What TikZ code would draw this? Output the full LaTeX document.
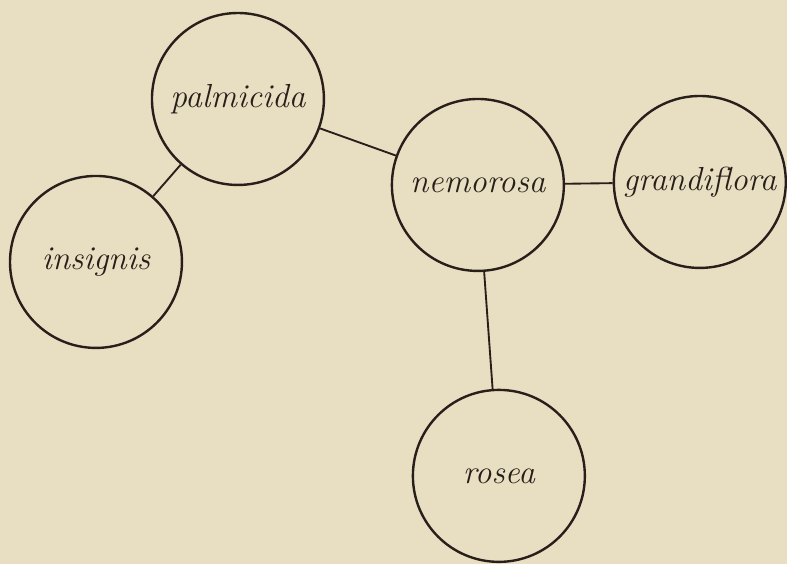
\documentclass[tikz,border=0pt]{standalone}
\usepackage{tikz}

\definecolor{paper}{RGB}{232,223,194}
\definecolor{ink}{RGB}{40,30,26}

\begin{document}
\begin{tikzpicture}[x=0.75pt,y=0.75pt,yscale=-1,xscale=1,
  species/.style={draw=ink,circle,line width=1.8pt,minimum size=129pt,inner sep=0pt,
    text=ink,font=\fontsize{25}{30}\selectfont\itshape},
  link/.style={draw=ink,line width=1.4pt}]
%set diagram size to 787 x 564
\path [fill=paper] (0,0) rectangle (787,564);

% Circle Nodes
\node [species] (palmicida) at (238,99) {palmicida};
\node [species] (insignis) at (96,262) {insignis};
\node [species] (nemorosa) at (478,185) {nemorosa};
\node [species] (grandiflora) at (700,182) {grandiflora};
\node [species] (rosea) at (499,476) {rosea};

% Straight Lines
\draw [link] (palmicida) -- (insignis);
\draw [link] (palmicida) -- (nemorosa);
\draw [link] (nemorosa) -- (grandiflora);
\draw [link] (nemorosa) -- (rosea);

\end{tikzpicture}
\end{document}
